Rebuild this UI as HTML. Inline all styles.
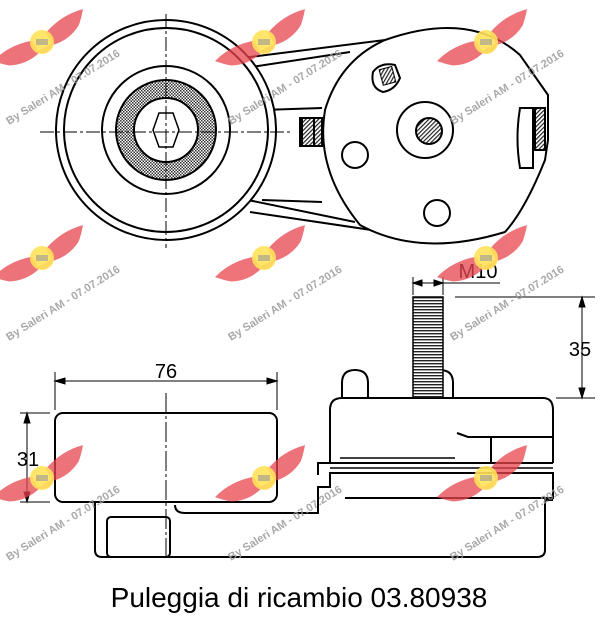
<!DOCTYPE html>
<html><head><style>
html,body{margin:0;padding:0;background:#fff;}
svg{display:block;}
text{font-family:"Liberation Sans",Arial,sans-serif;}
</style></head><body>
<svg width="614" height="623" viewBox="0 0 614 623" xmlns="http://www.w3.org/2000/svg">
<defs>
<pattern id="hx" width="3" height="3" patternUnits="userSpaceOnUse"><rect width="3" height="3" fill="#fff"/><rect width="1.5" height="1.5" fill="#333"/><rect x="1.5" y="1.5" width="1.5" height="1.5" fill="#333"/></pattern>
<pattern id="dg" width="3" height="3" patternUnits="userSpaceOnUse" patternTransform="rotate(45)"><rect width="3" height="3" fill="#fff"/><rect width="1.2" height="3" fill="#222"/></pattern>
<pattern id="th" width="4" height="3" patternUnits="userSpaceOnUse"><rect width="4" height="3" fill="#fff"/><rect width="4" height="1.4" fill="#222"/></pattern>
<g id="wm">
<g transform="rotate(-30)" fill="#e8454e" opacity="0.75">
<path d="M-8,-6 Q-30,-14 -52,-8 Q-45,0 -40,4 Q-25,12 -8,8 Z"/>
<path d="M8,-6 Q30,-14 52,-8 Q45,0 40,4 Q25,12 8,8 Z"/>
<path d="M-10,6 Q0,16 10,6 Z"/>
</g>
<circle cx="0" cy="0" r="12" fill="#ffe25a" opacity="0.9"/>
<rect x="-6" y="-3" width="12" height="6" fill="#999" opacity="0.6"/>
<text x="0" y="0" transform="translate(-33,83) rotate(-32)" font-size="11" font-weight="bold" fill="#999" opacity="0.85">By Saleri AM - 07.07.2016</text>
</g>
</defs>

<g fill="none" stroke="#000" stroke-width="2">
<path d="M242,58 L385,40"/>
<path d="M245,68 L350,52"/>
<path d="M262,110 L322,108"/>
<path d="M262,200 L322,202"/>
<path d="M248,200 L355,222"/>
<path d="M250,212 L385,232"/>
<path d="M385,40 Q470,10 520,55 L548,95 L548,140 L545,160 Q525,210 505,232 Q420,258 360,225 Q315,170 325,110 Q340,60 385,40Z" fill="#fff"/>
<rect x="302" y="118" width="20" height="28" fill="url(#dg)"/>
<rect x="300" y="118" width="14" height="28"/>
<path d="M535,108 L545,108 L545,150 L535,150 Z" fill="url(#dg)"/>
<path d="M520,108 L533,108 L533,168 L520,168 Q515,138 520,108Z"/>
<circle cx="425" cy="130" r="28"/>
<circle cx="429" cy="131" r="13" fill="url(#dg)"/>
<circle cx="355" cy="155" r="13"/>
<circle cx="437" cy="213" r="13"/>
<path d="M373,72 Q380,62 395,65 L400,78 Q395,90 383,92 Q370,88 373,72Z"/>
<rect x="381" y="68" width="13" height="16" fill="url(#dg)" transform="rotate(-15 387 76)" stroke-width="1"/>
<circle cx="166" cy="130" r="110" fill="#fff"/>
<circle cx="166" cy="130" r="102"/>
<circle cx="166" cy="130" r="64"/>
<circle cx="166" cy="130" r="50" fill="url(#hx)"/>
<circle cx="166" cy="130" r="32" fill="#fff"/>
<polygon points="153,130 159,113 173,113 179,130 173,147 159,147" stroke-width="1.5"/>
</g>
<g stroke="#000" stroke-width="1" stroke-dasharray="14,3,3,3">
<line x1="166" y1="14" x2="166" y2="248"/>
<line x1="40" y1="132" x2="290" y2="132"/>
</g>

<g fill="none" stroke="#000" stroke-width="2">
<path d="M95,502 L95,550 Q95,557 102,557 L537,557 Q545,557 545,550 L545,500 L553,500"/>
<rect x="107" y="517" width="63" height="40" rx="4"/>
<path d="M175,505 Q175,513 185,513 L318,513 L318,487 L330,487 L330,473 L553,473 L553,498 L345,498"/>
<path d="M318,475 L318,463 L553,463"/>
<path d="M330,468 L553,468" stroke-width="1.5"/>
<path d="M330,463 L330,410 Q330,398 342,398 L543,398 Q553,398 553,410 L553,463"/>
<path d="M457,433 L468,437 L553,437"/>
<path d="M491,437 L491,463"/>
<path d="M340,458 L455,458" stroke-width="1.5"/>
<path d="M342,398 L342,383 Q342,370 355,370 Q368,370 368,383 L368,398"/>
<path d="M427,398 L427,383 Q427,370 440,370 Q453,370 453,383 L453,398"/>
<rect x="55" y="413" width="222" height="89" rx="8" fill="#fff"/>
</g>
<rect x="413" y="297" width="30" height="101" fill="url(#th)" stroke="#000" stroke-width="1.5"/>
<line x1="166" y1="393" x2="166" y2="557" stroke="#000" stroke-width="1" stroke-dasharray="20,3,3,3"/>

<g stroke="#000" stroke-width="1" fill="#000">
<line x1="55" y1="372" x2="55" y2="410"/>
<line x1="277" y1="372" x2="277" y2="410"/>
<line x1="55" y1="381" x2="277" y2="381"/>
<polygon points="55,381 65,378 65,384"/><polygon points="277,381 267,378 267,384"/>
<line x1="20" y1="413" x2="50" y2="413"/>
<line x1="20" y1="502" x2="50" y2="502"/>
<line x1="27" y1="413" x2="27" y2="502"/>
<polygon points="27,413 24,423 30,423"/><polygon points="27,502 24,492 30,492"/>
<line x1="413" y1="277" x2="413" y2="295"/>
<line x1="443" y1="277" x2="443" y2="295"/>
<line x1="413" y1="283" x2="500" y2="283"/>
<polygon points="413,283 422,280 422,286"/><polygon points="443,283 434,280 434,286"/>
<line x1="455" y1="297" x2="595" y2="297"/>
<line x1="556" y1="398" x2="595" y2="398"/>
<line x1="582" y1="297" x2="582" y2="398"/>
<polygon points="582,297 579,307 585,307"/><polygon points="582,398 579,388 585,388"/>
</g>
<g font-size="20" fill="#000" stroke="none">
<text x="166" y="378" text-anchor="middle">76</text>
<text x="28" y="466" text-anchor="middle">31</text>
<text x="478" y="278" text-anchor="middle">M10</text>
<text x="580" y="356" text-anchor="middle">35</text>
</g>

<use href="#wm" x="42" y="42"/><use href="#wm" x="264" y="42"/><use href="#wm" x="486" y="42"/>
<use href="#wm" x="42" y="258"/><use href="#wm" x="264" y="258"/><use href="#wm" x="486" y="258"/>
<use href="#wm" x="42" y="478"/><use href="#wm" x="264" y="478"/><use href="#wm" x="486" y="478"/>

<text x="299" y="607" text-anchor="middle" font-size="28" fill="#000">Puleggia di ricambio 03.80938</text>
</svg>
</body></html>
